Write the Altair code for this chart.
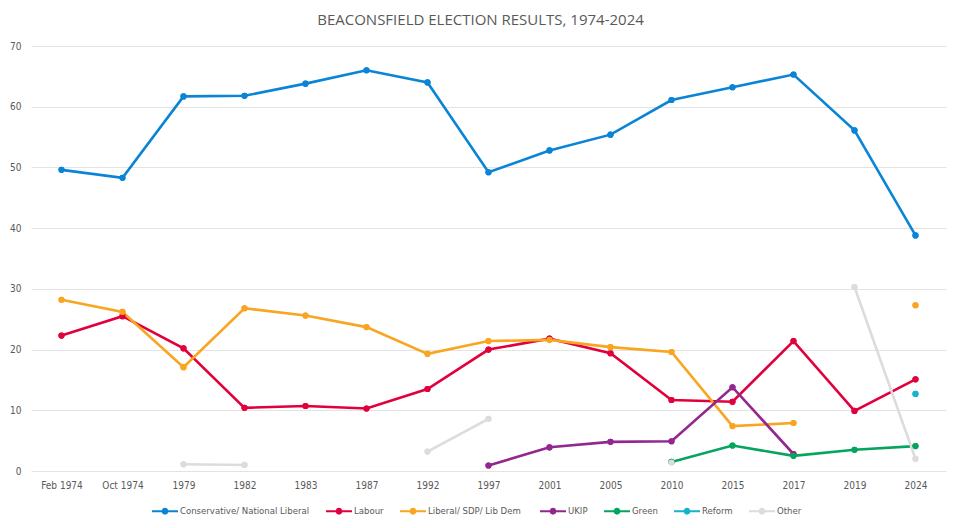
import altair as alt
import pandas as pd

years = ["Feb 1974", "Oct 1974", "1979", "1982", "1983", "1987", "1992", "1997",
         "2001", "2005", "2010", "2015", "2017", "2019", "2024"]

parties = ["Conservative/ National Liberal", "Labour", "Liberal/ SDP/ Lib  Dem",
           "UKIP", "Green", "Reform", "Other"]
colors = ["#0A84D6", "#E2003C", "#F9A51F", "#93278F", "#06A55E", "#16B3CF", "#DCDCDC"]

N = None
conservative = [49.6, 48.3, 61.7, 61.8, 63.8, 66.0, 64.0, 49.2, 52.8, 55.4, 61.1, 63.2, 65.3, 56.1, 38.8]
labour = [22.3, 25.5, 20.2, 10.4, 10.7, 10.3, 13.5, 20.0, 21.8, 19.4, 11.7, 11.4, 21.4, 9.9, 15.1]
libdem = [28.2, 26.2, 17.1, 26.8, 25.6, 23.7, 19.3, 21.4, 21.6, 20.4, 19.6, 7.4, 7.9, N, 27.3]
ukip = [N, N, N, N, N, N, N, 0.9, 3.9, 4.8, 4.9, 13.8, 2.8, N, N]
green = [N, N, N, N, N, N, N, N, N, N, 1.5, 4.2, 2.5, 3.5, 4.1]
reform = [N, N, N, N, N, N, N, N, N, N, N, N, N, N, 12.7]
other = [N, N, 1.1, 1.0, N, N, 3.2, 8.6, N, N, 1.4, N, N, 30.3, 2.0]

series = [conservative, labour, libdem, ukip, green, reform, other]

rows = []
for p, vals in zip(parties, series):
    seg = 0
    for y, v in zip(years, vals):
        if v is None:
            seg += 1
            continue
        rows.append({"year": y, "party": p, "value": v, "seg": f"{p}-{seg}"})
df = pd.DataFrame(rows)

FONT = "DejaVu Sans Condensed"
TXT = "#595959"

sym = ("M-1,-0.075 L1,-0.075 L1,0.075 L-1,0.075 Z "
       "M-0.26,0 A0.26,0.26 0 1,1 0.26,0 A0.26,0.26 0 1,1 -0.26,0 Z")

xenc = alt.X("year:N", sort=years, scale=alt.Scale(type="point", padding=0.5),
             axis=alt.Axis(title=None, labelAngle=0, ticks=False, domain=False,
                           grid=False, labelPadding=9, labelFontSize=10,
                           labelColor=TXT, labelFont=FONT))
yenc = alt.Y("value:Q", scale=alt.Scale(domain=[0, 70], nice=False),
             axis=alt.Axis(title=None, values=[0, 10, 20, 30, 40, 50, 60, 70],
                           ticks=False, domain=False, gridColor="#E3E3E3",
                           labelPadding=10, labelFontSize=10, labelColor=TXT,
                           labelFont=FONT))
cenc = alt.Color("party:N", sort=parties,
                 scale=alt.Scale(domain=parties, range=colors),
                 legend=alt.Legend(title=None, orient="none", direction="horizontal",
                                   legendX=121, legendY=452,
                                   symbolType=sym, symbolSize=676, symbolStrokeWidth=0,
                                   labelFont=FONT, labelFontSize=9.5, labelColor=TXT,
                                   labelOffset=2, columnPadding=16))

points = alt.Chart(df).mark_point(filled=True, size=38, opacity=1).encode(
    x=xenc, y=yenc, color=cenc)
lines = alt.Chart(df).mark_line(strokeWidth=2.6).encode(
    x=xenc, y=yenc, color=cenc, detail="seg:N")

chart = alt.layer(points, lines, points).properties(
    width=915, height=425,
    title=alt.Title("BEACONSFIELD ELECTION RESULTS, 1974-2024", fontSize=15,
                    font="Open Sans", fontWeight="normal", color=TXT, offset=13, dx=-8),
    autosize=alt.AutoSizeParams(type="none"),
    padding={"left": 23, "top": 38, "right": 6, "bottom": 49},
).configure_view(stroke=None)

chart.save("out.html", embed_options={"renderer": "svg", "actions": False})
